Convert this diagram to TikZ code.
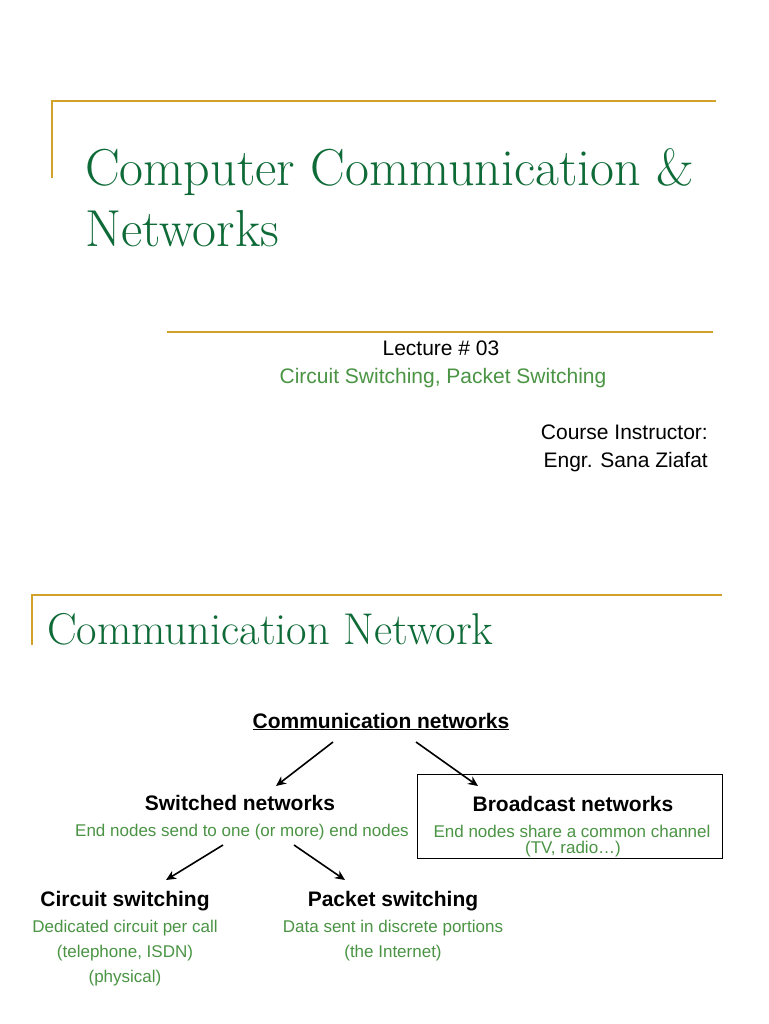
\documentclass[tikz,border=0pt]{standalone}
\usepackage{fontspec}
\setsansfont{Liberation Sans}
\usepackage{xcolor}
\usetikzlibrary{arrows.meta}

\definecolor{titlegreen}{HTML}{0E6B37}
\definecolor{textgreen}{HTML}{4A9444}
\definecolor{rulegold}{HTML}{D1A12A}

\begin{document}
\begin{tikzpicture}[
    x=1pt, y=-1pt,
    rule/.style={draw=rulegold, line width=1.5pt},
    slidetitle/.style={anchor=base west, inner sep=0, text=titlegreen, font=\rmfamily\fontsize{52}{52}\selectfont},
    plain/.style={anchor=base, inner sep=0, font=\sffamily\fontsize{21}{21}\selectfont},
    head/.style={anchor=base, inner sep=0, font=\sffamily\bfseries\fontsize{21}{21}\selectfont},
    note/.style={anchor=base, inner sep=0, text=textgreen, font=\sffamily\fontsize{17}{17}\selectfont},
    arrow/.style={-{Stealth[length=10pt,width=9pt]}, line width=1.6pt}
]
    \useasboundingbox[fill=white] (0,0) rectangle (768,1024);

    % Slide 1
    \draw[rule] (52,178) -- (52,101) -- (716,101);
    \node[slidetitle] (title1) at (85,186) {Computer Communication \&};
    \node[slidetitle] (title2) at (85,247) {Networks};
    \draw[rule] (167,332) -- (713,332);
    \node[plain] (lecture) at (441,355) {Lecture \# 03};
    \node[plain, text=textgreen] (topic) at (443,383) {Circuit Switching, Packet Switching};
    \node[plain, anchor=base east] (instr) at (708,439) {Course Instructor:};
    \node[plain, anchor=base east] (name) at (708,467) {Engr. Sana Ziafat};

    % Slide 2
    \draw[rule] (32,645) -- (32,595) -- (722,595);
    \node[slidetitle, font=\rmfamily\fontsize{44.5}{44.5}\selectfont] (title3) at (47,644) {Communication Network};

    % Tree
    \node[head] (comm) at (381,728) {\underline{Communication networks}};
    \node[head] (switched) at (240,810) {Switched networks};
    \node[note] (switchednote) at (242,836) {End nodes send to one (or more) end nodes};
    \node[head] (broad) at (573,811) {Broadcast networks};
    \node[note] (broadnote) at (572,837) {End nodes share a common channel};
    \node[note] (broadex) at (573,853) {(TV, radio…)};
    \draw[line width=0.8pt] (417,774) rectangle (722,858);

    \node[head] (circuit) at (125,906) {Circuit switching};
    \node[note] (circuitnote) at (125,932) {Dedicated circuit per call};
    \node[note] (circuitex) at (125,957) {(telephone, ISDN)};
    \node[note] (circuitphy) at (125,982) {(physical)};
    \node[head] (packet) at (393,906) {Packet switching};
    \node[note] (packetnote) at (393,932) {Data sent in discrete portions};
    \node[note] (packetex) at (393,957) {(the Internet)};

    % Arrows
    \coordinate (a1) at (333,742);
    \coordinate (b1) at (276,786);
    \coordinate (a2) at (416,742);
    \coordinate (b2) at (478,786);
    \coordinate (a3) at (223,845);
    \coordinate (b3) at (166,880);
    \coordinate (a4) at (294,845);
    \coordinate (b4) at (345,880);
    \draw[arrow] (a1) -- (b1);
    \draw[arrow] (a2) -- (b2);
    \draw[arrow] (a3) -- (b3);
    \draw[arrow] (a4) -- (b4);
\end{tikzpicture}
\end{document}
